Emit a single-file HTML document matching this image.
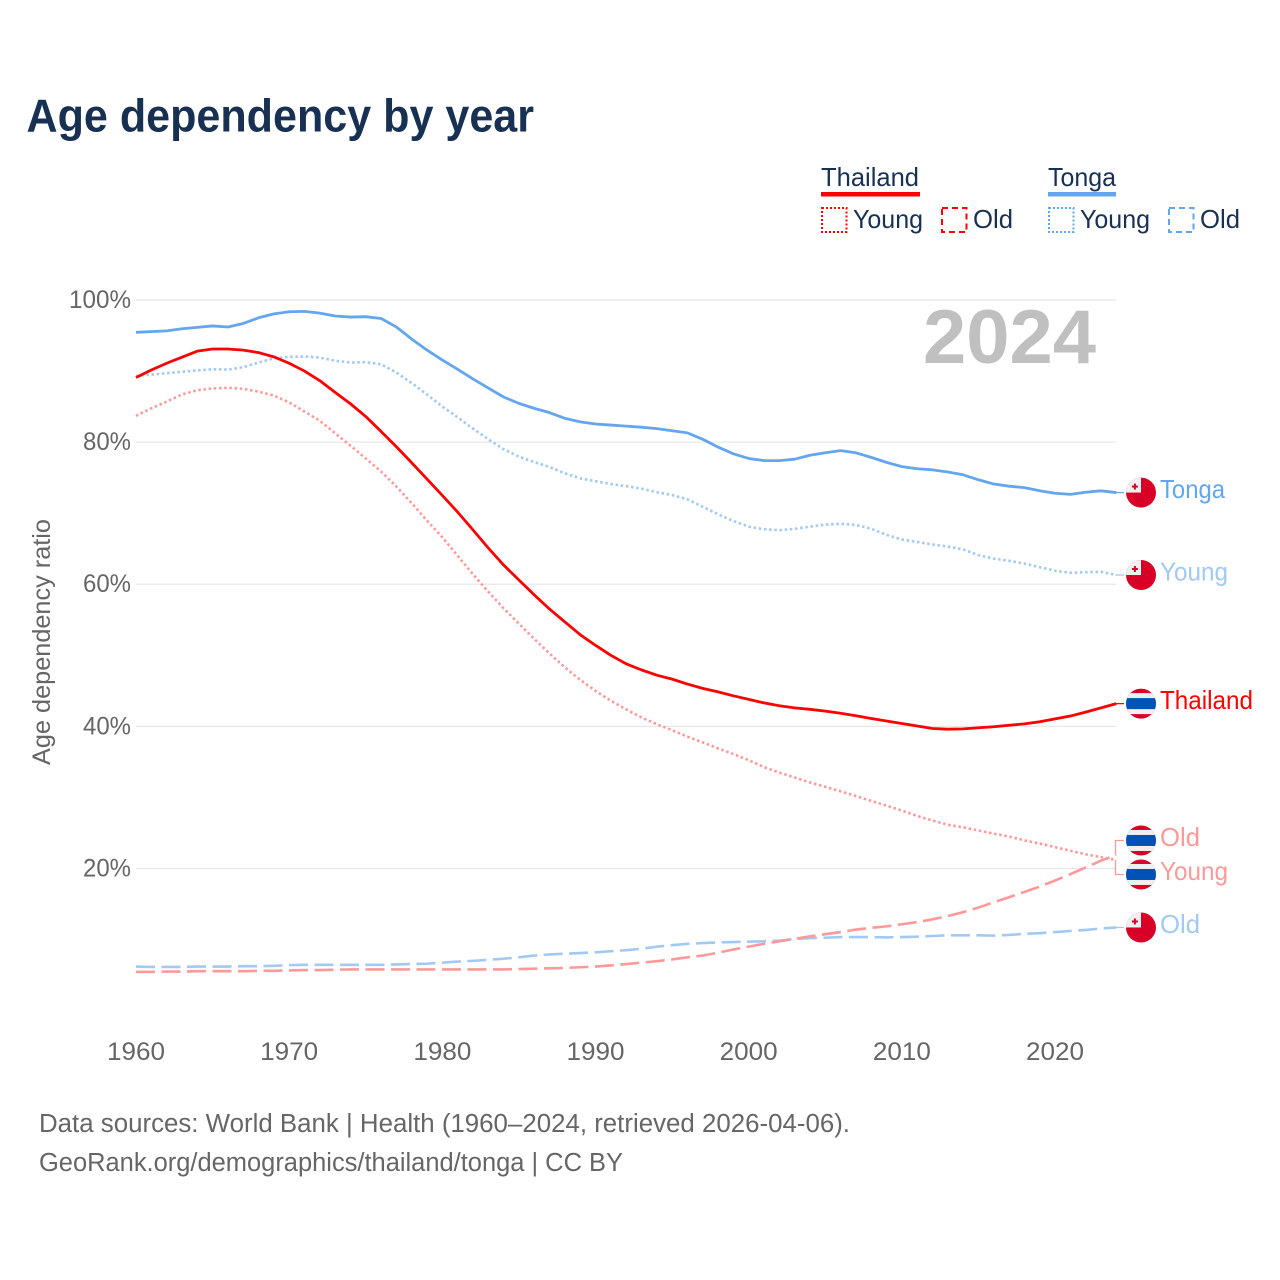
<!DOCTYPE html>
<html lang="en">
<head>
<meta charset="utf-8">
<title>Age dependency by year</title>
<style>
html,body{margin:0;padding:0;background:#fff;}
svg{display:block;}
text{font-family:"Liberation Sans",sans-serif;}
.tick{font-size:25px;fill:#666;}
.legend{font-size:26px;fill:#183153;}
.foot{font-size:25.5px;fill:#666;}
.lab{font-size:26px;}
</style>
</head>
<body>
<svg id="chart" xmlns="http://www.w3.org/2000/svg" width="1280" height="1280" viewBox="0 0 1280 1280">
<defs><clipPath id="flag-clip"><circle cx="0" cy="0" r="15"></circle></clipPath></defs>
<rect x="0" y="0" width="1280" height="1280" fill="#fff"></rect>
<text x="26.5" y="131.5" font-size="46" font-weight="700" fill="#183153" textLength="507.5" lengthAdjust="spacingAndGlyphs">Age dependency by year</text>

<g>
<text class="legend" x="821" y="186" textLength="98" lengthAdjust="spacingAndGlyphs">Thailand</text>
<rect x="821" y="192" width="99" height="4.5" fill="#ff0000"></rect>
<rect x="822" y="208" width="24.5" height="24" fill="none" stroke="#ff0000" stroke-width="2" stroke-dasharray="2 2"></rect>
<text class="legend" x="853" y="228" textLength="70" lengthAdjust="spacingAndGlyphs">Young</text>
<rect x="942" y="208" width="24.5" height="24" fill="none" stroke="#ff0000" stroke-width="2" stroke-dasharray="6 4"></rect>
<text class="legend" x="973" y="228" textLength="40" lengthAdjust="spacingAndGlyphs">Old</text>
<text class="legend" x="1048" y="186" textLength="68" lengthAdjust="spacingAndGlyphs">Tonga</text>
<rect x="1048" y="192" width="68" height="4.5" fill="#63a6ee"></rect>
<rect x="1049" y="208" width="24.5" height="24" fill="none" stroke="#63a6ee" stroke-width="2" stroke-dasharray="2 2"></rect>
<text class="legend" x="1080" y="228" textLength="70" lengthAdjust="spacingAndGlyphs">Young</text>
<rect x="1169" y="208" width="24.5" height="24" fill="none" stroke="#63a6ee" stroke-width="2" stroke-dasharray="6 4"></rect>
<text class="legend" x="1200" y="228" textLength="40" lengthAdjust="spacingAndGlyphs">Old</text>
</g>

<g id="grid"></g>
<g id="yticks"></g>
<g id="xticks"></g>
<text class="tick" transform="translate(50,642) rotate(-90)" text-anchor="middle" textLength="246" lengthAdjust="spacingAndGlyphs">Age dependency ratio</text>
<text x="923" y="363" font-size="76" font-weight="700" fill="#c0c0c0" textLength="173" lengthAdjust="spacingAndGlyphs">2024</text>

<g id="series"></g>
<g id="connectors"></g>

<g id="label-tonga">
<g transform="translate(1141,0)" clip-path="url(#flag-clip)"><rect x="-15" y="-15" width="30" height="30" fill="#d80027"></rect><rect x="-15" y="-15" width="15" height="15" fill="#f0f0f0"></rect><rect x="-7.1" y="-9" width="2" height="6" fill="#d80027"></rect><rect x="-9.1" y="-7" width="6" height="2" fill="#d80027"></rect></g>
<text class="lab" x="1160" y="5.5" fill="#63a6ee" textLength="65" lengthAdjust="spacingAndGlyphs">Tonga</text>
</g>
<g id="label-tonga-young">
<g transform="translate(1141,0)" clip-path="url(#flag-clip)"><rect x="-15" y="-15" width="30" height="30" fill="#d80027"></rect><rect x="-15" y="-15" width="15" height="15" fill="#f0f0f0"></rect><rect x="-7.1" y="-9" width="2" height="6" fill="#d80027"></rect><rect x="-9.1" y="-7" width="6" height="2" fill="#d80027"></rect></g>
<text class="lab" x="1160" y="5.5" fill="#a1c9f4" textLength="68" lengthAdjust="spacingAndGlyphs">Young</text>
</g>
<g id="label-thailand">
<g transform="translate(1141,0)" clip-path="url(#flag-clip)"><rect x="-15" y="-15" width="30" height="30" fill="#d80027"></rect><rect x="-15" y="-10.5" width="30" height="21" fill="#f0f0f0"></rect><rect x="-15" y="-5.5" width="30" height="11" fill="#0052b4"></rect></g>
<text class="lab" x="1160" y="5.5" fill="#ff0000" textLength="93" lengthAdjust="spacingAndGlyphs">Thailand</text>
</g>
<g id="label-thailand-old">
<g transform="translate(1141,0)" clip-path="url(#flag-clip)"><rect x="-15" y="-15" width="30" height="30" fill="#d80027"></rect><rect x="-15" y="-10.5" width="30" height="21" fill="#f0f0f0"></rect><rect x="-15" y="-5.5" width="30" height="11" fill="#0052b4"></rect></g>
<text class="lab" x="1160" y="5.5" fill="#ff9999" textLength="40" lengthAdjust="spacingAndGlyphs">Old</text>
</g>
<g id="label-thailand-young">
<g transform="translate(1141,0)" clip-path="url(#flag-clip)"><rect x="-15" y="-15" width="30" height="30" fill="#d80027"></rect><rect x="-15" y="-10.5" width="30" height="21" fill="#f0f0f0"></rect><rect x="-15" y="-5.5" width="30" height="11" fill="#0052b4"></rect></g>
<text class="lab" x="1160" y="5.5" fill="#ff9999" textLength="68" lengthAdjust="spacingAndGlyphs">Young</text>
</g>
<g id="label-tonga-old">
<g transform="translate(1141,0)" clip-path="url(#flag-clip)"><rect x="-15" y="-15" width="30" height="30" fill="#d80027"></rect><rect x="-15" y="-15" width="15" height="15" fill="#f0f0f0"></rect><rect x="-7.1" y="-9" width="2" height="6" fill="#d80027"></rect><rect x="-9.1" y="-7" width="6" height="2" fill="#d80027"></rect></g>
<text class="lab" x="1160" y="5.5" fill="#a1c9f4" textLength="40" lengthAdjust="spacingAndGlyphs">Old</text>
</g>

<text class="foot" x="39" y="1132" textLength="811" lengthAdjust="spacingAndGlyphs">Data sources: World Bank | Health (1960–2024, retrieved 2026-04-06).</text>
<text class="foot" x="39" y="1171" textLength="584" lengthAdjust="spacingAndGlyphs">GeoRank.org/demographics/thailand/tonga | CC BY</text>
</svg>

<script>
const startYear = 1960;
const xTickYears = [1960, 1970, 1980, 1990, 2000, 2010, 2020];
const yTickValues = [20, 40, 60, 80, 100];

const tongaTotal = [95.45,95.55,95.65,95.95,96.15,96.35,96.2,96.7,97.5,98.05,
98.35,98.4,98.15,97.75,97.6,97.65,97.4,96.2,94.5,92.95,
91.55,90.25,88.9,87.6,86.35,85.45,84.75,84.15,83.35,82.85,
82.55,82.4,82.25,82.1,81.9,81.6,81.3,80.4,79.3,78.35,
77.7,77.4,77.4,77.6,78.15,78.5,78.8,78.5,77.85,77.15,
76.55,76.25,76.1,75.8,75.4,74.7,74.1,73.8,73.6,73.15,
72.8,72.65,72.95,73.15,72.9];

const tongaYoung = [89.3,89.5,89.7,89.9,90.1,90.25,90.2,90.55,91.2,91.8,
92,92.05,91.9,91.45,91.2,91.25,90.95,89.8,88.3,86.7,
85,83.5,81.9,80.4,79,77.95,77.2,76.5,75.6,74.9,
74.5,74.1,73.8,73.45,72.95,72.55,71.95,70.9,69.85,68.9,
68.1,67.75,67.6,67.8,68.1,68.4,68.5,68.35,67.8,66.95,
66.3,65.95,65.6,65.3,64.9,64.1,63.6,63.3,62.9,62.4,
61.9,61.6,61.7,61.75,61.3];

const tongaOld = [6.2,6.15,6.15,6.15,6.2,6.2,6.2,6.25,6.25,6.3,
6.4,6.45,6.45,6.45,6.45,6.45,6.45,6.5,6.55,6.6,
6.75,6.9,7,7.15,7.3,7.5,7.75,7.9,8,8.1,
8.2,8.35,8.5,8.7,9,9.2,9.4,9.5,9.6,9.65,
9.7,9.75,9.85,10.05,10.2,10.25,10.35,10.35,10.35,10.3,
10.35,10.4,10.5,10.6,10.6,10.6,10.55,10.65,10.8,10.9,
11.05,11.2,11.35,11.55,11.7];

const thailandTotal = [89.1,90.15,91.1,91.95,92.8,93.1,93.1,92.95,92.6,92,
91.1,90,88.65,87,85.4,83.6,81.5,79.35,77.1,74.8,
72.5,70.15,67.65,65.1,62.7,60.6,58.5,56.5,54.7,52.9,
51.4,50,48.8,47.95,47.2,46.65,45.95,45.35,44.85,44.3,
43.8,43.3,42.9,42.6,42.4,42.15,41.85,41.5,41.1,40.75,
40.4,40.05,39.7,39.6,39.65,39.8,39.95,40.15,40.35,40.65,
41.05,41.45,42,42.6,43.2];

const thailandYoung = [83.7,84.75,85.7,86.7,87.3,87.55,87.65,87.5,87.1,86.55,
85.6,84.3,83,81.25,79.5,77.7,75.85,73.75,71.4,68.95,
66.6,64,61.4,58.95,56.6,54.45,52.3,50.25,48.3,46.55,
45,43.6,42.4,41.25,40.3,39.45,38.55,37.75,36.9,36.1,
35.25,34.25,33.5,32.8,32.1,31.5,30.85,30.2,29.5,28.85,
28.15,27.4,26.75,26.15,25.8,25.35,24.9,24.5,23.95,23.5,
23,22.5,22,21.6,21.2];

const thailandOld = [5.45,5.45,5.5,5.5,5.55,5.55,5.55,5.55,5.6,5.6,
5.65,5.7,5.7,5.75,5.8,5.8,5.8,5.8,5.8,5.8,
5.8,5.8,5.8,5.8,5.8,5.85,5.9,5.95,6,6.1,
6.2,6.35,6.55,6.75,6.95,7.2,7.5,7.75,8.15,8.6,
9,9.4,9.75,10.1,10.45,10.75,11.05,11.4,11.65,11.85,
12.15,12.45,12.85,13.3,13.85,14.5,15.25,15.95,16.7,17.45,
18.3,19.2,20.15,21.1,21.9];

const NS = 'http://www.w3.org/2000/svg';
function xScale(year){ return 136 + (year - 1960) * 15.317; }
function yScale(v){ return 300 + (100 - v) * 7.106; }

const grid = document.getElementById('grid');
const yticks = document.getElementById('yticks');
yTickValues.forEach(function(v){
  const line = document.createElementNS(NS, 'line');
  
  
  line.setAttribute('x1', 136);
  line.setAttribute('x2', 1116);
  line.setAttribute('y1', yScale(v));
  line.setAttribute('y2', yScale(v));
  line.setAttribute('stroke', '#e8e8e8');
  line.setAttribute('stroke-width', '1.3');
  grid.appendChild(line);
  const t = document.createElementNS(NS, 'text');
  
  
  t.setAttribute('class', 'tick');
  t.setAttribute('x', 131);
  t.setAttribute('y', yScale(v) + 8);
  t.setAttribute('text-anchor', 'end');
  t.setAttribute('textLength', v === 100 ? 62 : 48);
  t.setAttribute('lengthAdjust', 'spacingAndGlyphs');
  t.textContent = v + '%';
  yticks.appendChild(t);
});

const xticks = document.getElementById('xticks');
xTickYears.forEach(function(yr){
  const t = document.createElementNS(NS, 'text');
  
  
  t.setAttribute('class', 'tick');
  t.setAttribute('x', xScale(yr));
  t.setAttribute('y', 1060);
  t.setAttribute('text-anchor', 'middle');
  t.setAttribute('textLength', 58);
  t.setAttribute('lengthAdjust', 'spacingAndGlyphs');
  t.textContent = yr;
  xticks.appendChild(t);
});

function linePath(vals){
  return vals.map(function(v, i){
    return (i ? 'L' : 'M') + xScale(startYear + i).toFixed(2) + ',' + yScale(v).toFixed(2);
  }).join(' ');
}

const seriesGroup = document.getElementById('series');
function drawSeries(name, vals, color, width, dash){
  const p = document.createElementNS(NS, 'path');
  
  
  p.setAttribute('d', linePath(vals));
  p.setAttribute('fill', 'none');
  p.setAttribute('stroke', color);
  p.setAttribute('stroke-width', width);
  p.setAttribute('stroke-linejoin', 'round');
  if (dash) p.setAttribute('stroke-dasharray', dash);
  seriesGroup.appendChild(p);
}
const RED = '#ff0000', REDL = '#ff9999', BLUE = '#63a6ee', BLUEL = '#a1c9f4';
const DOT = '2.5 2.7', DASH = '19 6.5';
drawSeries('tonga-old-line', tongaOld, BLUEL, 2.6, DASH);
drawSeries('thailand-old-line', thailandOld, REDL, 2.6, DASH);
drawSeries('tonga-young-line', tongaYoung, BLUEL, 2.6, DOT);
drawSeries('thailand-young-line', thailandYoung, REDL, 2.6, DOT);
drawSeries('tonga-total-line', tongaTotal, BLUE, 2.8, null);
drawSeries('thailand-total-line', thailandTotal, RED, 2.8, null);

const connectors = document.getElementById('connectors');
function placeLabel(id, name, vals, labelY, color){
  document.getElementById(id).setAttribute('transform', 'translate(0,' + labelY.toFixed(2) + ')');
  const endY = yScale(vals[vals.length - 1]);
  const c = document.createElementNS(NS, 'path');
  
  
  c.setAttribute('d', 'M1124,' + labelY.toFixed(2) + ' H1115.5 V' + endY.toFixed(2));
  c.setAttribute('fill', 'none');
  c.setAttribute('stroke', color);
  c.setAttribute('stroke-width', '1.3');
  connectors.appendChild(c);
}
const thaiOldY = yScale(thailandOld[thailandOld.length - 1]);
const thaiYoungY = yScale(thailandYoung[thailandYoung.length - 1]);
const thaiMid = (thaiOldY + thaiYoungY) / 2;
placeLabel('label-tonga', 'tonga-connector', tongaTotal, yScale(tongaTotal[tongaTotal.length - 1]), BLUE);
placeLabel('label-tonga-young', 'tonga-young-connector', tongaYoung, yScale(tongaYoung[tongaYoung.length - 1]), BLUEL);
placeLabel('label-thailand', 'thailand-connector', thailandTotal, yScale(thailandTotal[thailandTotal.length - 1]), RED);
placeLabel('label-thailand-old', 'thailand-old-connector', thailandOld, thaiMid - 17, REDL);
placeLabel('label-thailand-young', 'thailand-young-connector', thailandYoung, thaiMid + 17, REDL);
placeLabel('label-tonga-old', 'tonga-old-connector', tongaOld, yScale(tongaOld[tongaOld.length - 1]), BLUEL);
</script>
</body>
</html>
